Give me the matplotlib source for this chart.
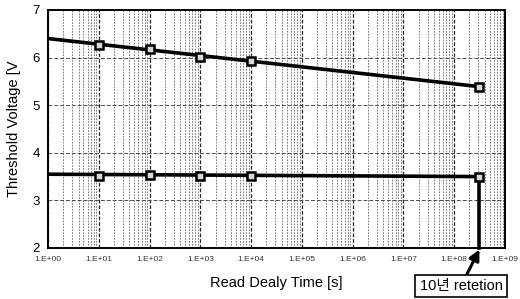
import numpy as np
import matplotlib.pyplot as plt
import matplotlib
from matplotlib.ticker import LogLocator

matplotlib.rcParams['font.family'] = ['Liberation Sans', 'Noto Sans CJK KR', 'DejaVu Sans']

# measured points (read delay time in s, threshold voltage in V)
t_pts = [1e1, 1e2, 1e3, 1e4, 3.15e8]
prog_v = [6.27, 6.19, 6.01, 5.92, 5.39]
erase_v = [3.52, 3.53, 3.52, 3.51, 3.50]

# fitted trend lines
t_fit = [1e0, 3.15e8]
prog_fit = [6.40, 5.39]
erase_fit = [3.55, 3.50]

x_ticks = [10.0 ** k for k in range(10)]
x_labels = ['1.E+%02d' % k for k in range(10)]
y_ticks = [2, 3, 4, 5, 6, 7]

fig = plt.figure(figsize=(5.2, 2.99), dpi=100)
ax = fig.add_axes([0.0923, 0.1706, 0.8787, 0.796])

ax.set_xscale('log')
ax.set_xlim(1e0, 1e9)
ax.set_ylim(2, 7)

# dense grid like the scanned figure
ax.xaxis.set_minor_locator(LogLocator(base=10, subs=np.arange(2, 10), numticks=100))
ax.grid(which='minor', axis='x', color='0.4', lw=0.6, ls=(0, (2, 1.5)))
ax.grid(which='major', axis='x', color='0.15', lw=0.9, ls=(0, (3, 1.5)))
ax.grid(which='major', axis='y', color='0.3', lw=0.7, ls=(0, (4, 2)))

ax.plot(t_fit, prog_fit, color='black', lw=2.6, zorder=3)
ax.plot(t_fit, erase_fit, color='black', lw=2.6, zorder=3)
ax.plot(t_pts, prog_v, ls='none', marker='s', ms=5.5, mfc='0.85',
        mec='black', mew=1.8, zorder=4)
ax.plot(t_pts, erase_v, ls='none', marker='s', ms=5.5, mfc='0.85',
        mec='black', mew=1.8, zorder=4)

ax.set_xticks(x_ticks)
ax.set_xticklabels(x_labels, fontsize=6, color='0.2')
ax.set_yticks(y_ticks)
ax.set_yticklabels([str(v) for v in y_ticks], fontsize=9.5)
ax.tick_params(which='both', length=0)
ax.tick_params(axis='x', pad=6)
ax.tick_params(axis='y', pad=6)

for s in ax.spines.values():
    s.set_linewidth(1.4)
    s.set_color('black')

ax.set_xlabel('Read Dealy Time [s]', fontsize=10.5, labelpad=9)
ax.set_ylabel('Threshold Voltage [V', fontsize=10.5, labelpad=8)

# 10-year retention marker
ax.plot([3.15e8, 3.15e8], [erase_v[-1], 2.0], color='black', lw=2.6,
        zorder=3, clip_on=False)
ax.annotate('10년 retetion', xy=(3.15e8, 1.97), xycoords='data',
            xytext=(461, 13), textcoords='figure pixels',
            ha='center', va='center', fontsize=10.5,
            bbox=dict(boxstyle='square,pad=0.3', fc='white', ec='black', lw=1.2),
            arrowprops=dict(arrowstyle='-|>,head_length=0.6,head_width=0.3',
                            color='black', lw=2.2, shrinkA=0, shrinkB=0),
            annotation_clip=False)

fig.savefig('out.png', dpi=100)
